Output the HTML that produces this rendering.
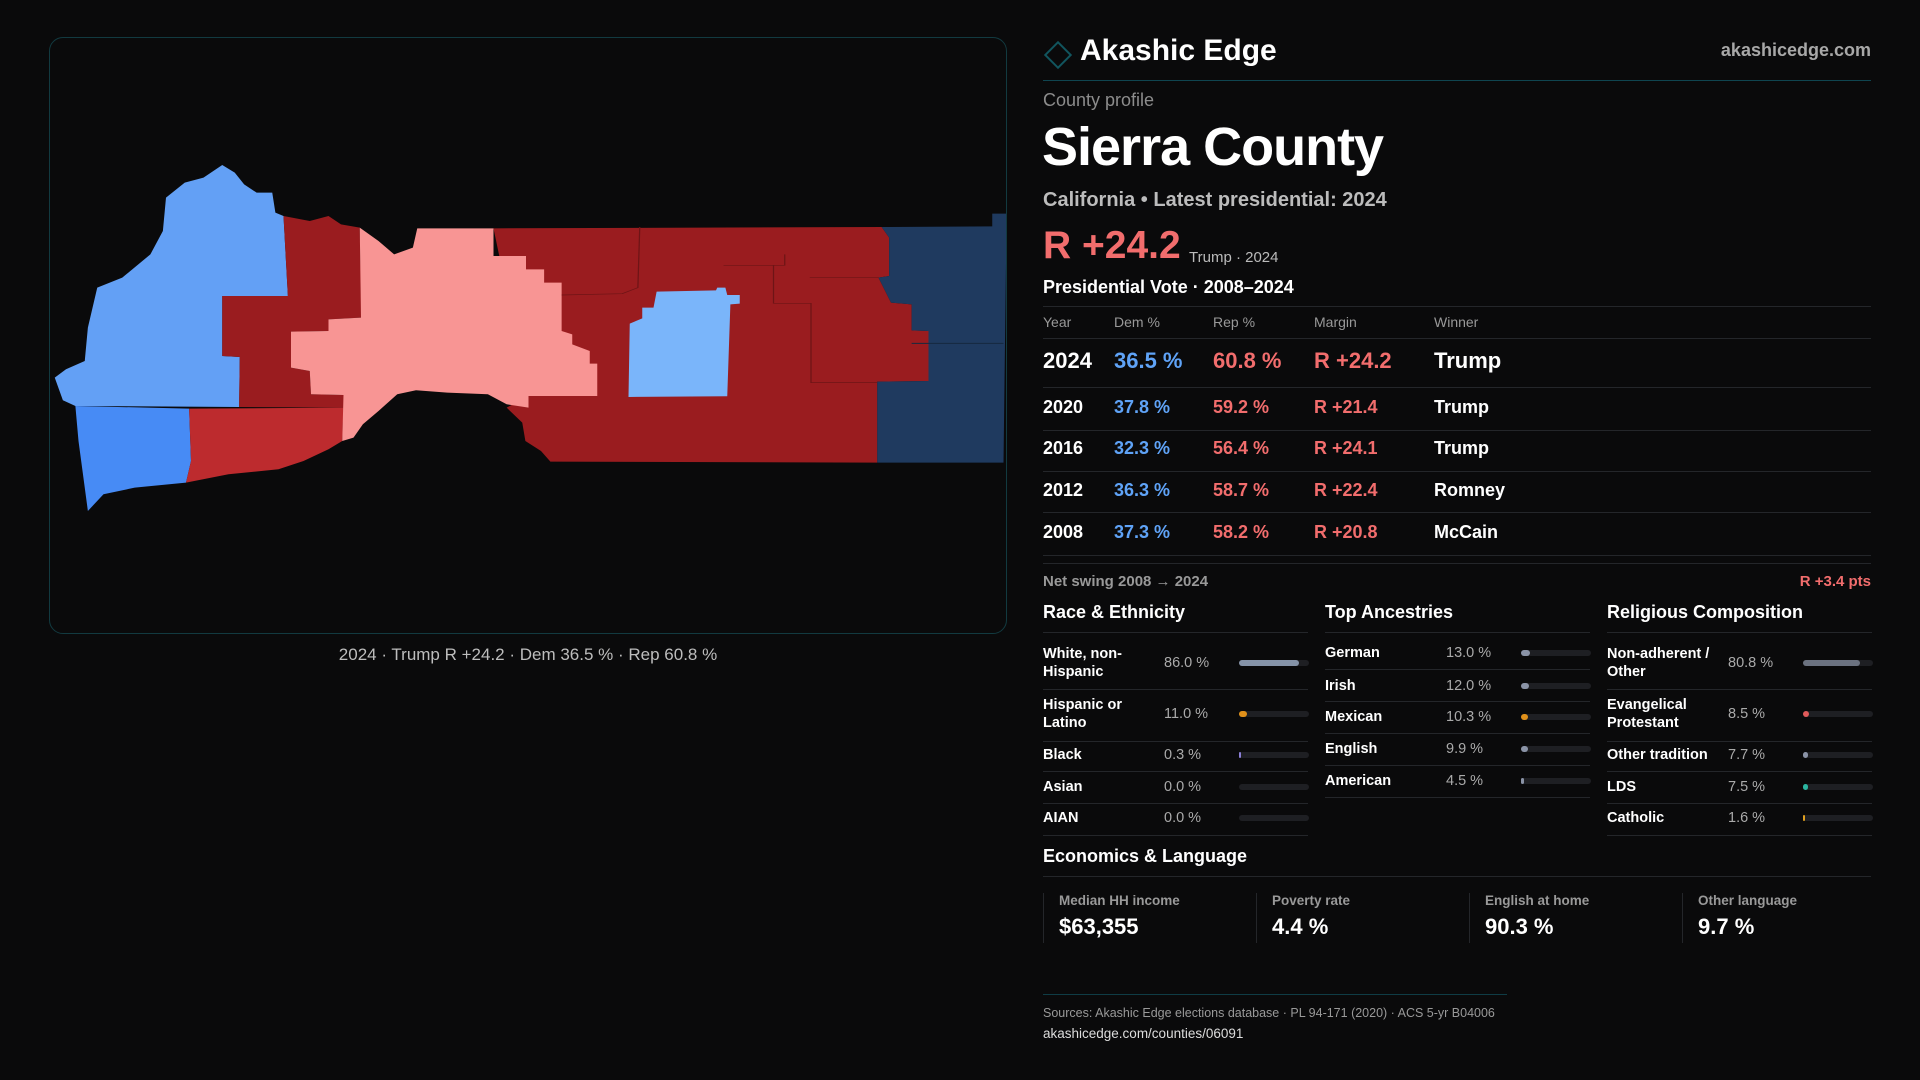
<!DOCTYPE html>
<html><head><meta charset="utf-8">
<style>
*{margin:0;padding:0;box-sizing:border-box}
body{width:1920px;height:1080px;background:#0a0a0b;font-family:"Liberation Sans",sans-serif;color:#fff;position:relative;overflow:hidden}
.a{position:absolute;white-space:nowrap}
.ln{position:absolute;height:1px;background:#24262a}
.b{font-weight:bold}
</style></head><body>
<div class="a" style="left:49px;top:37px;width:958px;height:597px;border:1px solid #123a40;border-radius:14px;overflow:hidden">
<svg width="958" height="597">
<g transform="translate(-9,103) scale(0.625,0.3333)">
<polygon fill="#63a0f5" points="290,72 310,95 325,130 345,155 370,155 375,215 388,225 395,465 290,465 290,645 318,648 317,798 55,795 35,778 22,710 40,685 70,660 75,560 90,440 130,410 175,340 195,270 200,170 230,125 260,110"/>
<polygon fill="#9a1c1f" points="388,225 430,240 460,225 480,250 510,260 512,465 512,530 460,535 460,570 400,572 400,680 430,690 432,760 484,762 484,800 317,798 318,648 290,645 290,465 395,465"/>
<polygon fill="#478bf5" points="55,795 237,803 240,960 232,1025 150,1040 100,1060 75,1110 60,900"/>
<polygon fill="#bd2b2e" points="237,803 484,800 482,900 460,925 420,960 380,985 300,1000 232,1025 240,960"/>
<polygon fill="#9a1c1f" points="724,262 1345,258 1357,290 1357,405 1340,410 1360,485 1393,490 1393,568 1420,570 1420,720 1338,722 1338,965 815,962 800,930 775,900 770,845 745,800 780,765"/>
<polygon fill="#f89594" points="510,260 540,300 565,340 595,320 602,262 724,262 724,345 776,345 776,385 805,385 805,425 833,425 833,570 850,580 850,610 878,630 878,668 890,668 890,765 780,765 780,800 745,790 715,760 650,755 600,748 570,760 540,810 515,850 500,890 482,900 484,762 432,760 430,690 400,680 400,572 460,570 460,535 512,530"/>
<polygon fill="#7ab5fa" points="985,452 1080,448 1082,440 1095,440 1098,462 1118,462 1118,488 1103,490 1098,766 940,768 942,548 962,532 962,500 980,500"/>
<polygon fill="#1f3a5f" points="1345,258 1522,256 1522,218 1545,218 1540,965 1338,965 1338,722 1420,720 1420,570 1393,568 1393,490 1360,485 1340,410 1357,405 1357,290"/>
<g fill="none" stroke="#6e1416" stroke-width="2">
<polyline points="833,462 930,458 955,440 958,258"/>
<polyline points="1092,373 1190,373 1190,340"/>
<polyline points="1172,373 1172,487 1232,487 1232,725 1338,725"/>
<polyline points="1230,410 1340,410"/>
</g>
<line x1="1393" y1="607" x2="1540" y2="607" stroke="#15293f" stroke-width="3"/>
</g></svg></div>
<div class="a" style="left:49px;width:958px;top:645px;text-align:center;font-size:17px;color:#bdbdbd">2024 · Trump R +24.2 · Dem 36.5 % · Rep 60.8 %</div>

<div class="a" style="left:1048px;top:45px;width:20px;height:20px;border:2px solid #11555e;transform:rotate(45deg)"></div>
<div class="a b" style="left:1080px;top:34px;font-size:30px">Akashic Edge</div>
<div class="a b" style="right:49px;top:40px;font-size:18px;color:#a8a8a8">akashicedge.com</div>
<div class="ln" style="left:1043px;width:828px;top:80px;background:#0f4550"></div>
<div class="a" style="left:1043px;top:90px;font-size:18px;color:#8c8c8c">County profile</div>
<div class="a b" style="left:1042px;top:116px;font-size:54px;letter-spacing:-1px">Sierra County</div>
<div class="a b" style="left:1043px;top:189px;font-size:20px;color:#bcbcbc">California • Latest presidential: 2024</div>
<div class="a b" style="left:1043px;top:224px;font-size:39px;color:#f26d6d">R +24.2</div>
<div class="a" style="left:1189px;top:249px;font-size:15px;color:#bbb">Trump · 2024</div>
<div class="a b" style="left:1043px;top:277px;font-size:18px">Presidential Vote · 2008–2024</div>
<div class="ln" style="left:1043px;width:828px;top:306px"></div>
<div id="tbl"></div>
<div class="ln" style="left:1043px;width:828px;top:563px"></div>
<div class="a b" style="left:1043px;top:573px;font-size:15px;color:#999">Net swing 2008 → 2024</div>
<div class="a b" style="right:49px;top:573px;font-size:15px;color:#f26d6d">R +3.4 pts</div>
<div id="demo"></div>
<div class="a b" style="left:1043px;top:846px;font-size:18px">Economics &amp; Language</div>
<div class="ln" style="left:1043px;width:828px;top:876px"></div>
<div id="econ"></div>
<div class="ln" style="left:1043px;width:464px;top:994px;background:#0f3c45"></div>
<div class="a" style="left:1043px;top:1006px;font-size:12.5px;color:#999">Sources: Akashic Edge elections database · PL 94-171 (2020) · ACS 5-yr B04006</div>
<div class="a" style="left:1043px;top:1026px;font-size:13.5px;color:#ddd">akashicedge.com/counties/06091</div>
<script>
const years=["2024","2020","2016","2012","2008"];
const dem=[36.5,37.8,32.3,36.3,37.3];
const rep=[60.8,59.2,56.4,58.7,58.2];
const margins=[24.2,21.4,24.1,22.4,20.8];
const winners=["Trump","Trump","Trump","Romney","McCain"];
const raceLabels=["White, non-<br>Hispanic","Hispanic or<br>Latino","Black","Asian","AIAN"];
const raceVals=[86.0,11.0,0.3,0.0,0.0];
const raceColors=["#8593a8","#e0901a","#8b7fd6","#888","#888"];
const ancLabels=["German","Irish","Mexican","English","American"];
const ancVals=[13.0,12.0,10.3,9.9,4.5];
const ancColors=["#8a93a6","#8a93a6","#e0901a","#8a93a6","#8a93a6"];
const relLabels=["Non-adherent /<br>Other","Evangelical<br>Protestant","Other tradition","LDS","Catholic"];
const relVals=[80.8,8.5,7.7,7.5,1.6];
const relColors=["#6b7280","#e05a5a","#8a93a6","#2bb5a0","#e0a020"];
const econLabels=["Median HH income","Poverty rate","English at home","Other language"];
const econVals=["$63,355","4.4 %","90.3 %","9.7 %"];

function mk(parent,html,css){const d=document.createElement('div');d.className='a';d.style.cssText=css;d.innerHTML=html;parent.appendChild(d);return d;}
const tbl=document.getElementById('tbl');
const cols=[1043,1114,1213,1314,1434];
["Year","Dem %","Rep %","Margin","Winner"].forEach((h,i)=>{
 const e=mk(tbl,h,`left:${cols[i]}px;top:314px;font-size:14px;color:#999`);
 
 
});
mk(tbl,'','left:1043px;width:828px;top:338px;height:1px;background:#24262a');
const rowY=[361,408,449,491,533], lineY=[387,430,471,512,555];
years.forEach((y,i)=>{
 const fs=i==0?22:18, top=rowY[i]-fs*0.6;
 const vals=[y,dem[i].toFixed(1)+' %',rep[i].toFixed(1)+' %','R +'+margins[i].toFixed(1),winners[i]];
 const colr=['#fff','#5fa3f7','#f26d6d','#f26d6d','#fff'];
 vals.forEach((v,j)=>{
  const e=mk(tbl,v,`left:${cols[j]}px;top:${top}px;font-size:${fs}px;font-weight:bold;color:${colr[j]}`);
  
  
 });
 mk(tbl,'',`left:1043px;width:828px;top:${lineY[i]}px;height:1px;background:#24262a`);
});
const demo=document.getElementById('demo');
function section(x,title,labels,vals,colors,ys,lines,key){
 const h=mk(demo,title,`left:${x}px;top:602px;font-size:18px;font-weight:bold`);
 
 
 mk(demo,'',`left:${x}px;width:265px;top:632px;height:1px;background:#24262a`);
 labels.forEach((l,i)=>{
  const two=l.includes('<br>');
  const t=mk(demo,l,`left:${x}px;top:${ys[i]-(two?18:9)}px;font-size:14.5px;font-weight:bold;line-height:18px`);
  
  
  const v=mk(demo,vals[i].toFixed(1)+' %',`left:${x+121}px;top:${ys[i]-9}px;font-size:14.5px;color:#aaa;line-height:18px`);
  
  
  const tr=mk(demo,'',`left:${x+196}px;top:${ys[i]-3}px;width:70px;height:6px;border-radius:3px;background:#1e1f23`);
  
  
  if(vals[i]>0){const w=Math.max(2,70*vals[i]/100);
   const f=mk(demo,'',`left:${x+196}px;top:${ys[i]-3}px;width:${w}px;height:6px;border-radius:3px;background:${colors[i]}`);
   
   }
  mk(demo,'',`left:${x}px;width:265px;top:${lines[i]}px;height:1px;background:#24262a`);
 });
}
const ysA=[663,714,755,787,818], lnA=[689,741,771,803,835];
section(1043,"Race &amp; Ethnicity",raceLabels,raceVals,raceColors,ysA,lnA,'race');
section(1325,"Top Ancestries",ancLabels,ancVals,ancColors,[653,686,717,749,781],[669,701,733,765,797],'ancestry');
section(1607,"Religious Composition",relLabels,relVals,relColors,ysA,lnA,'religion');
const econ=document.getElementById('econ');
econLabels.forEach((l,i)=>{
 const x=1043+i*213;
 mk(econ,'',`left:${x}px;top:893px;width:1px;height:50px;background:#24262a`);
 const a=mk(econ,l,`left:${x+16}px;top:893px;font-size:13.5px;color:#999;font-weight:bold`);
 
 
 const b=mk(econ,econVals[i],`left:${x+16}px;top:914px;font-size:22px;font-weight:bold`);
 
 
});
</script>
</body></html>
